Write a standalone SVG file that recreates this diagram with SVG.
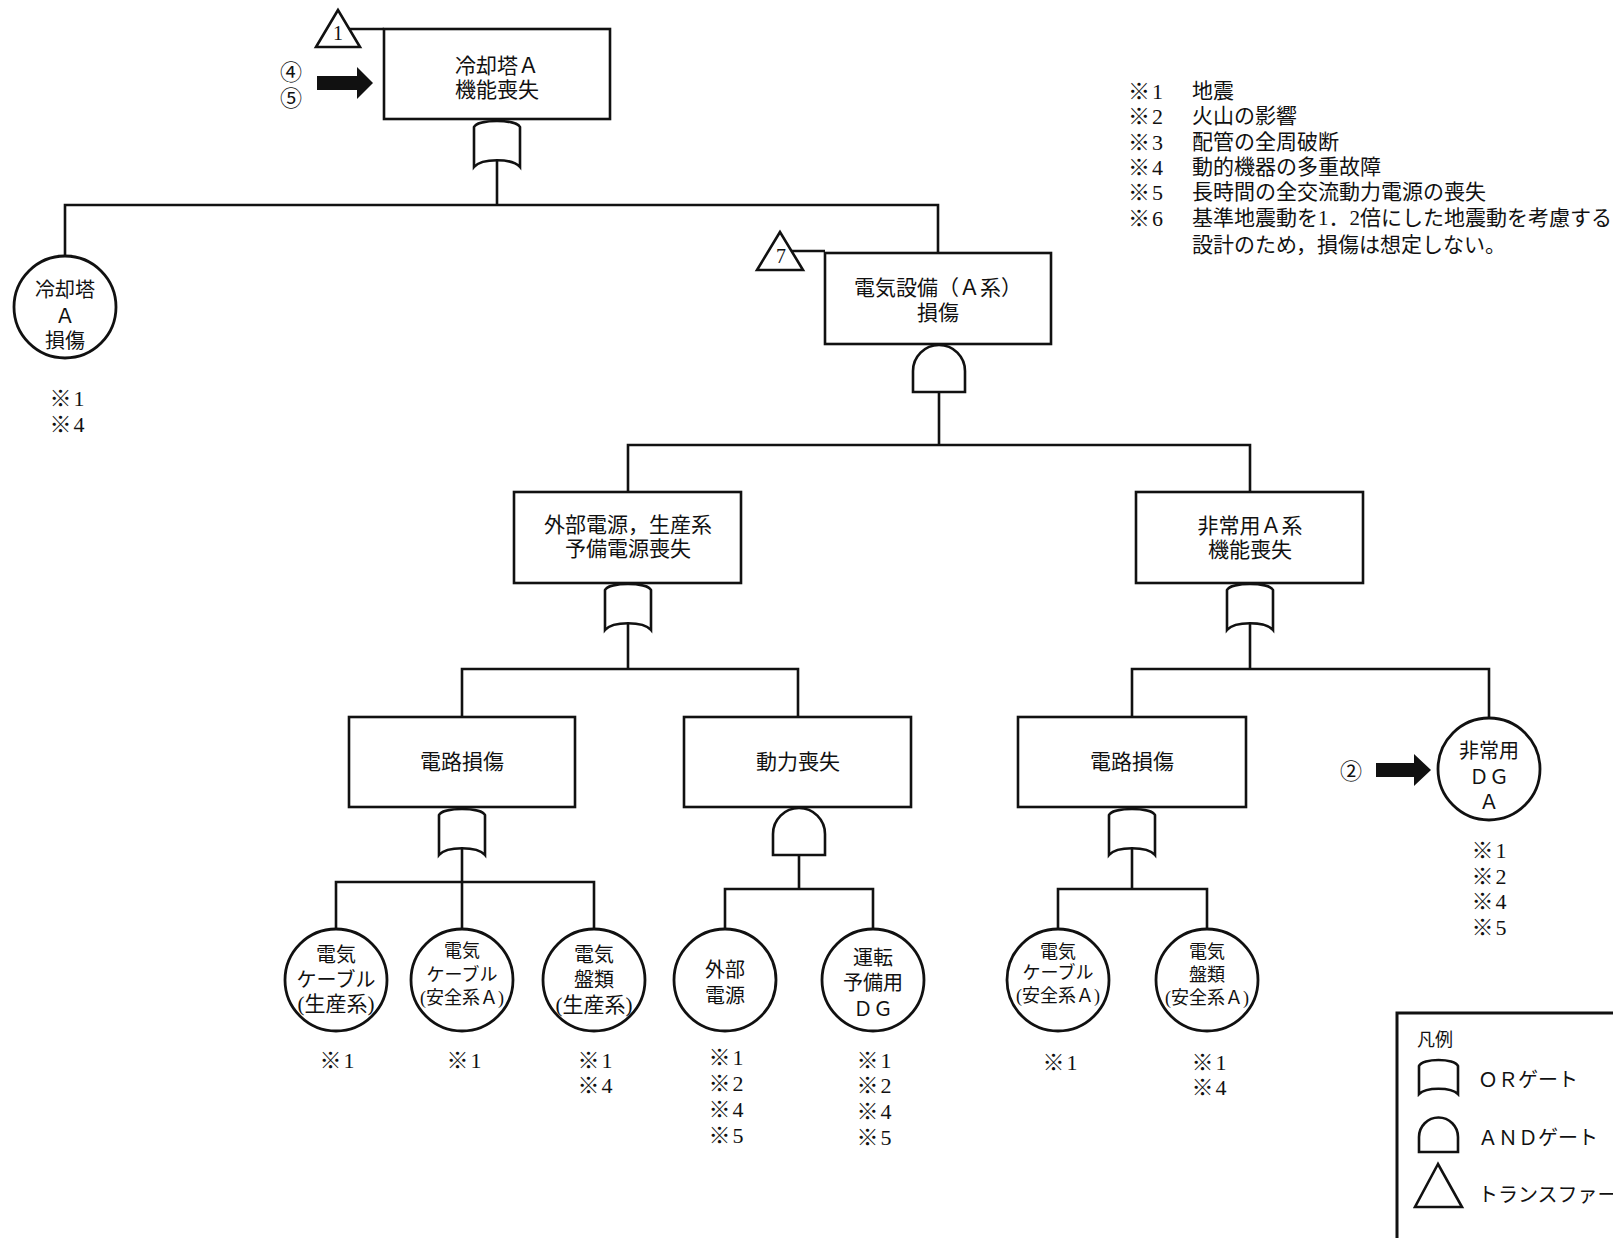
<svg xmlns="http://www.w3.org/2000/svg" xmlns:xlink="http://www.w3.org/1999/xlink" width="1613" height="1238" viewBox="0 0 1613 1238">
<style>
.bx{fill:#fff;stroke:#111;stroke-width:2.6}
.ci{fill:#fff;stroke:#111;stroke-width:2.8}
.ln{fill:none;stroke:#111;stroke-width:2.6}
.g{fill:#fff;stroke:#111;stroke-width:2.6}
.ar{fill:#111}
text{font-family:"Liberation Serif","Noto Sans CJK JP",serif;fill:#111}
.t{font-size:21px;text-anchor:middle}
.c{font-size:20px;text-anchor:middle}
.s{font-size:18px;text-anchor:middle}
.n{font-size:22px;text-anchor:middle;letter-spacing:2px}
.l{font-size:21px}
.m{font-size:22px;letter-spacing:2px}
.lg{font-size:20px}
</style>
<defs>
<path id="orGate" d="M -23 47 L -23 7 C -19 -1 19 -1 23 7 L 23 47 C 15 38 -15 38 -23 47 Z"/>
<path id="andGate" d="M -26 47 L -26 26 A 26 26 0 0 1 26 26 L 26 47 Z"/>
</defs>

<g id="connectors">
<path class="ln" d="M497 160 V205 M65 256 V205 H938 V253"/>
<path class="ln" d="M349 29 H384"/>
<path class="ln" d="M792 251 H825"/>
<path class="ln" d="M939 392 V445 M628 492 V445 H1250 V492"/>
<path class="ln" d="M628 623 V669 M462 717 V669 H798 V717"/>
<path class="ln" d="M1250 623 V669 M1132 717 V669 H1489 V718"/>
<path class="ln" d="M462 848 V929 M336 929 V882 H594 V929"/>
<path class="ln" d="M799 855 V889 M725 929 V889 H873 V929"/>
<path class="ln" d="M1132 848 V889 M1058 929 V889 H1207 V929"/>
</g>

<g id="transfer1">
<polygon class="g" points="338,10 316,47 360,47"/>
<text x="338" y="40" class="c">1</text>
</g>
<g id="arrow45">
<text x="291" y="80" class="c" style="font-size:22px">④</text>
<text x="291" y="106" class="c" style="font-size:22px">⑤</text>
<polygon class="ar" points="317,76 357,76 357,67 373,83 357,99 357,90 317,90"/>
</g>
<g id="node-top">
<rect class="bx" x="384" y="29" width="226" height="90"/>
<text x="497" y="73" class="t">冷却塔Ａ</text>
<text x="497" y="97" class="t">機能喪失</text>
<use href="#orGate" class="g" x="497" y="120"/>
</g>

<g id="node-ct-damage">
<circle class="ci" cx="65" cy="307" r="51"/>
<text x="65" y="297" class="c">冷却塔</text>
<text x="65" y="323" class="c">Ａ</text>
<text x="65" y="348" class="c">損傷</text>
<text x="68" y="406" class="n">※1</text>
<text x="68" y="432" class="n">※4</text>
</g>

<g id="transfer7">
<polygon class="g" points="780,232 757,270 803,270"/>
<text x="781" y="263" class="c">7</text>
</g>
<g id="node-elec">
<rect class="bx" x="825" y="253" width="226" height="91"/>
<text x="938" y="295" class="t">電気設備（Ａ系）</text>
<text x="938" y="320" class="t">損傷</text>
<use href="#andGate" class="g" x="939" y="345"/>
</g>

<g id="node-offsite">
<rect class="bx" x="514" y="492" width="227" height="91"/>
<text x="628" y="532" class="t">外部電源，生産系</text>
<text x="628" y="556" class="t">予備電源喪失</text>
<use href="#orGate" class="g" x="628" y="583"/>
</g>
<g id="node-emerg">
<rect class="bx" x="1136" y="492" width="227" height="91"/>
<text x="1250" y="533" class="t">非常用Ａ系</text>
<text x="1250" y="557" class="t">機能喪失</text>
<use href="#orGate" class="g" x="1250" y="583"/>
</g>

<g id="node-circuit1">
<rect class="bx" x="349" y="717" width="226" height="90"/>
<text x="462" y="769" class="t">電路損傷</text>
<use href="#orGate" class="g" x="462" y="808"/>
</g>
<g id="node-power">
<rect class="bx" x="684" y="717" width="227" height="90"/>
<text x="798" y="769" class="t">動力喪失</text>
<use href="#andGate" class="g" x="799" y="808"/>
</g>
<g id="node-circuit2">
<rect class="bx" x="1018" y="717" width="228" height="90"/>
<text x="1132" y="769" class="t">電路損傷</text>
<use href="#orGate" class="g" x="1132" y="808"/>
</g>

<g id="node-dg">
<circle class="ci" cx="1489" cy="769" r="51"/>
<text x="1489" y="758" class="c">非常用</text>
<text x="1489" y="784" class="c">ＤＧ</text>
<text x="1489" y="809" class="c">Ａ</text>
<text x="1490" y="858" class="n">※1</text>
<text x="1490" y="884" class="n">※2</text>
<text x="1490" y="909" class="n">※4</text>
<text x="1490" y="935" class="n">※5</text>
</g>
<g id="arrow2">
<text x="1351" y="779" class="c" style="font-size:22px">②</text>
<polygon class="ar" points="1376,763 1414,763 1414,754 1431,770 1414,786 1414,777 1376,777"/>
</g>

<g id="node-cable-prod">
<circle class="ci" cx="336" cy="980" r="51"/>
<text x="336" y="962" class="c">電気</text>
<text x="336" y="987" class="c">ケーブル</text>
<text x="336" y="1011" class="c" style="font-size:21px">(生産系)</text>
<text x="338" y="1068" class="n">※1</text>
</g>
<g id="node-cable-safe1">
<circle class="ci" cx="462" cy="980" r="51"/>
<text x="462" y="957" class="s">電気</text>
<text x="462" y="981" class="s">ケーブル</text>
<text x="462" y="1004" class="s">(安全系Ａ)</text>
<text x="465" y="1068" class="n">※1</text>
</g>
<g id="node-panel-prod">
<circle class="ci" cx="594" cy="980" r="51"/>
<text x="594" y="962" class="c">電気</text>
<text x="594" y="987" class="c">盤類</text>
<text x="594" y="1012" class="c" style="font-size:21px">(生産系)</text>
<text x="596" y="1068" class="n">※1</text>
<text x="596" y="1093" class="n">※4</text>
</g>
<g id="node-offsite-src">
<circle class="ci" cx="725" cy="980" r="51"/>
<text x="725" y="977" class="c">外部</text>
<text x="725" y="1003" class="c">電源</text>
<text x="727" y="1065" class="n">※1</text>
<text x="727" y="1091" class="n">※2</text>
<text x="727" y="1117" class="n">※4</text>
<text x="727" y="1143" class="n">※5</text>
</g>
<g id="node-standby-dg">
<circle class="ci" cx="873" cy="980" r="51"/>
<text x="873" y="965" class="c">運転</text>
<text x="873" y="990" class="c">予備用</text>
<text x="873" y="1016" class="c">ＤＧ</text>
<text x="875" y="1068" class="n">※1</text>
<text x="875" y="1093" class="n">※2</text>
<text x="875" y="1119" class="n">※4</text>
<text x="875" y="1145" class="n">※5</text>
</g>
<g id="node-cable-safe2">
<circle class="ci" cx="1058" cy="980" r="51"/>
<text x="1058" y="958" class="s">電気</text>
<text x="1058" y="979" class="s">ケーブル</text>
<text x="1058" y="1002" class="s">(安全系Ａ)</text>
<text x="1061" y="1070" class="n">※1</text>
</g>
<g id="node-panel-safe">
<circle class="ci" cx="1207" cy="980" r="51"/>
<text x="1207" y="958" class="s">電気</text>
<text x="1207" y="981" class="s">盤類</text>
<text x="1207" y="1004" class="s">(安全系Ａ)</text>
<text x="1210" y="1070" class="n">※1</text>
<text x="1210" y="1095" class="n">※4</text>
</g>

<g id="notes">
<text x="1128" y="99" class="m">※1</text><text x="1192" y="98" class="l">地震</text>
<text x="1128" y="124" class="m">※2</text><text x="1192" y="123" class="l">火山の影響</text>
<text x="1128" y="150" class="m">※3</text><text x="1192" y="149" class="l">配管の全周破断</text>
<text x="1128" y="175" class="m">※4</text><text x="1192" y="174" class="l">動的機器の多重故障</text>
<text x="1128" y="200" class="m">※5</text><text x="1192" y="199" class="l">長時間の全交流動力電源の喪失</text>
<text x="1128" y="226" class="m">※6</text><text x="1192" y="225" class="l">基準地震動を1．2倍にした地震動を考慮する</text>
<text x="1192" y="252" class="l">設計のため，損傷は想定しない。</text>
</g>

<g id="legend">
<rect x="1397" y="1013" width="260" height="260" fill="#fff" stroke="#111" stroke-width="3"/>
<text x="1417" y="1046" style="font-size:18px">凡例</text>
<path class="g" d="M1419 1094 L1419 1066 C1422 1058 1455 1058 1458 1066 L1458 1094 C1451 1087 1426 1087 1419 1094 Z"/>
<text x="1478" y="1087" class="lg">ＯＲゲート</text>
<path class="g" d="M1419 1152 L1419 1137 A19.5 19.5 0 0 1 1458 1137 L1458 1152 Z"/>
<text x="1478" y="1145" class="lg">ＡＮＤゲート</text>
<polygon class="g" points="1438,1164 1415,1207 1462,1207"/>
<text x="1478" y="1202" class="lg">トランスファー</text>
</g>
</svg>
